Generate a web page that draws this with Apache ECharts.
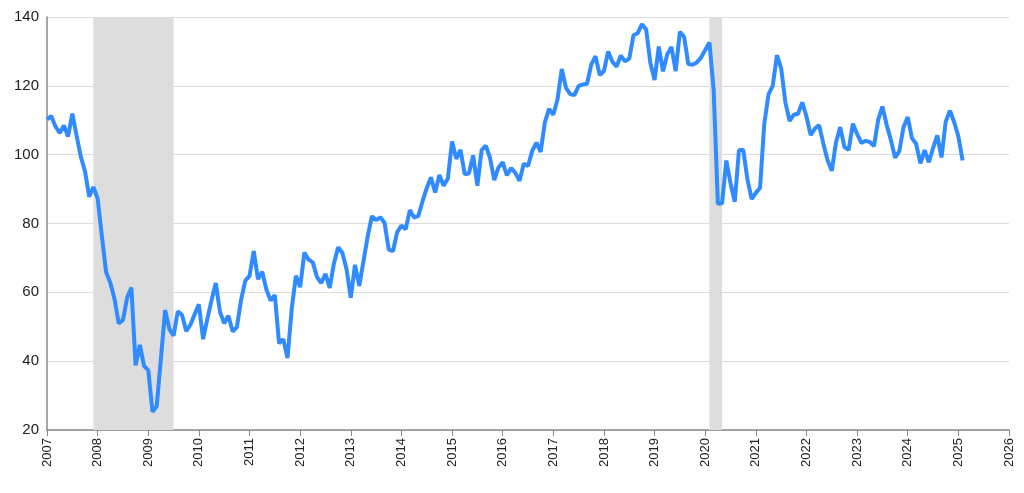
<!DOCTYPE html>
<html><head><meta charset="utf-8">
<script src="https://cdn.jsdelivr.net/npm/echarts@6/dist/echarts.min.js"></script>
<style>html,body{margin:0;padding:0;background:#fff}#c{width:1024px;height:493px}</style>
</head><body><div id="c"></div>
<script>
const startYear = 2007;
const values = [
110.2,111.2,108.2,106.3,108.5,105.3,111.9,105.6,99.5,95.2,87.8,90.6,
87.3,76.4,65.9,62.8,58.1,51.0,51.9,58.5,61.4,38.8,44.7,38.6,
37.4,25.3,26.9,40.8,54.8,49.3,47.4,54.5,53.4,48.7,50.6,53.6,
56.5,46.4,52.3,57.7,62.7,54.3,51.0,53.2,48.6,49.9,57.8,63.4,
64.8,72.0,63.8,66.0,60.8,57.6,59.2,45.2,46.4,40.9,55.2,64.8,
61.5,71.6,69.5,68.7,64.4,62.7,65.4,61.3,68.4,73.1,71.5,66.7,
58.4,68.0,61.9,69.0,76.2,82.1,81.0,81.8,80.2,72.4,72.0,77.5,
79.4,78.3,83.9,81.7,82.2,86.4,90.3,93.4,89.0,94.1,91.0,93.1,
103.8,98.8,101.4,94.3,94.6,99.8,91.0,101.3,102.6,99.1,92.6,96.3,
97.8,94.0,96.1,94.7,92.4,97.4,96.7,101.1,103.5,100.8,109.4,113.3,
111.6,116.1,124.9,119.4,117.6,117.3,120.0,120.4,120.6,126.2,128.6,123.1,
124.3,130.0,127.0,125.6,128.8,127.1,127.9,134.7,135.3,137.9,136.4,126.6,
121.7,131.4,124.2,129.2,131.3,124.3,135.7,134.2,126.3,126.1,126.8,128.2,
130.4,132.6,118.8,85.7,85.9,98.3,91.7,86.3,101.3,101.4,92.9,87.1,
88.9,90.4,109.0,117.5,120.0,128.9,125.1,115.2,109.8,111.6,111.9,115.2,
111.1,105.7,107.6,108.6,103.2,98.4,95.3,103.6,108.0,102.2,101.4,109.0,
106.0,103.4,104.0,103.7,102.5,110.1,114.0,108.7,104.3,99.1,101.0,108.0,
110.9,104.8,103.1,97.5,101.3,97.8,101.9,105.6,99.2,109.6,112.8,109.5,
105.3,98.3
];
const recessions = [[2007+11/12, 2009.5],[2020+1/12, 2020+4/12]];
const data = values.map((v,i)=>[startYear + i/12, v]);
const chart = echarts.init(document.getElementById('c'));
chart.setOption({
  animation:false,
  grid:{left:47,right:15,top:17,bottom:63},
  xAxis:{type:'value',min:2007,max:2026,interval:1,
    axisLine:{lineStyle:{color:'#888',width:1.5}},
    axisTick:{show:true,length:6,lineStyle:{color:'#888'}},
    splitLine:{show:false},
    axisLabel:{rotate:90,color:'#222',fontSize:13,fontFamily:'Liberation Sans',formatter:v=>String(v)}},
  yAxis:{type:'value',min:20,max:140,interval:20,
    axisLine:{show:true,lineStyle:{color:'#888',width:1.5}},
    axisTick:{show:false},
    splitLine:{lineStyle:{color:'#dcdcdc'}},
    axisLabel:{color:'#222',fontSize:15,fontFamily:'Liberation Sans'}},
  series:[{type:'line',data:data,showSymbol:false,
    lineStyle:{color:'#2f8bff',width:4},
    markArea:{silent:true,itemStyle:{color:'#dddddd'},
      data:recessions.map(r=>[{xAxis:r[0]},{xAxis:r[1]}])}}]
});
</script></body></html>
